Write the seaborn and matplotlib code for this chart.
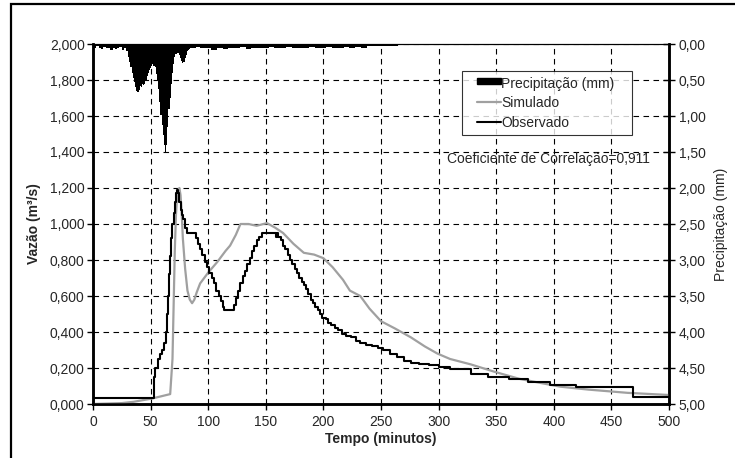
import matplotlib
matplotlib.use("Agg")
import matplotlib.pyplot as plt
import seaborn as sns
from matplotlib.patches import Patch, Rectangle
from matplotlib.lines import Line2D
from matplotlib.legend_handler import HandlerPatch, HandlerLine2D
from matplotlib.ticker import FuncFormatter, MultipleLocator

sns.set_style("white")
plt.rcParams['font.family'] = ['Liberation Sans', 'DejaVu Sans']

# ==========================================
# Dados
# ==========================================
# Vazão observada (m3/s) - hidrograma em degraus
obs_t = [0, 52, 53, 54, 56, 58, 60, 62, 63, 64, 65, 66, 67, 68, 69, 70, 71, 72, 73, 74,
         75, 76, 77, 78, 80, 82, 87, 89, 91, 93, 95, 97, 99, 101, 103, 105, 107, 109, 111,
         113, 114, 120, 122, 124, 126, 128, 130, 132, 134, 136, 138, 140, 142, 144, 147,
         158, 159, 160, 161, 163, 165, 167, 169, 171, 173, 175, 177, 179, 181, 183, 185,
         187, 189, 191, 193, 195, 197, 199, 202, 204, 207, 210, 213, 216, 220, 224, 228,
         232, 237, 242, 247, 252, 258, 264, 270, 276, 283, 292, 300, 310, 328, 343, 361,
         378, 397, 419, 469, 500]
obs_q = [0.035, 0.035, 0.15, 0.20, 0.25, 0.28, 0.30, 0.34, 0.40, 0.50, 0.60, 0.72, 0.82,
         0.92, 1.00, 1.06, 1.12, 1.17, 1.19, 1.17, 1.12, 1.08, 1.05, 1.03, 0.98, 0.95, 0.95,
         0.92, 0.89, 0.86, 0.83, 0.79, 0.76, 0.73, 0.70, 0.67, 0.63, 0.60, 0.57, 0.54, 0.52,
         0.52, 0.55, 0.59, 0.63, 0.67, 0.71, 0.74, 0.78, 0.81, 0.85, 0.88, 0.91, 0.93, 0.95,
         0.95, 0.93, 0.95, 0.93, 0.91, 0.88, 0.86, 0.83, 0.80, 0.78, 0.75, 0.73, 0.70, 0.68,
         0.66, 0.64, 0.61, 0.58, 0.56, 0.54, 0.52, 0.50, 0.48, 0.47, 0.45, 0.44, 0.42, 0.41,
         0.39, 0.38, 0.37, 0.35, 0.34, 0.33, 0.32, 0.31, 0.30, 0.28, 0.26, 0.24, 0.23, 0.22,
         0.215, 0.205, 0.195, 0.167, 0.15, 0.14, 0.122, 0.105, 0.094, 0.04, 0.04]

# Vazão simulada (m3/s)
sim_t = [0, 25, 35, 51, 67, 69, 70, 71, 72, 73, 74, 75, 76, 77, 78, 80, 82, 84, 86, 88,
         90, 93, 100, 108, 115, 119, 124, 128, 135, 142, 151, 158, 165, 174, 183, 192,
         200, 208, 217, 223, 232, 240, 250, 262, 276, 288, 299, 310, 319, 328, 348, 370,
         390, 406, 430, 464, 500]
sim_q = [0.0, 0.005, 0.012, 0.03, 0.055, 0.25, 0.55, 0.85, 1.05, 1.15, 1.19, 1.20, 1.16,
         1.06, 0.92, 0.75, 0.63, 0.58, 0.56, 0.58, 0.62, 0.67, 0.73, 0.79, 0.85, 0.88, 0.94,
         1.00, 1.00, 0.99, 1.005, 0.98, 0.95, 0.89, 0.84, 0.83, 0.81, 0.76, 0.69, 0.63,
         0.60, 0.53, 0.46, 0.42, 0.37, 0.32, 0.28, 0.25, 0.235, 0.22, 0.18, 0.14, 0.115,
         0.096, 0.08, 0.062, 0.05]

# Precipitação (mm)
precip_t = [0, 2, 4, 6, 8, 10, 12, 14, 16, 18, 20, 22, 24, 26, 28,
            30, 31, 32, 33, 34, 35, 36, 37, 38, 39, 40, 41, 42, 43, 44, 45, 46, 47, 48, 49,
            50, 51, 52, 53, 54, 55, 56, 57, 58, 59, 60, 61, 62, 63, 64, 65, 66, 67, 68, 69,
            70, 71, 72, 73, 74, 75, 76, 77, 78, 79, 80, 81, 82, 83, 84, 85, 86, 88,
            90, 95, 100, 105, 110, 115, 120, 125, 130, 135, 140, 145, 150, 155, 160, 165,
            170, 175, 180, 185, 190, 195, 200, 205, 210, 215, 220, 225, 230, 235, 240,
            250, 260, 270, 280, 290, 300, 320, 340, 360, 380]
precip_mm = [0.04, 0.06, 0.03, 0.05, 0.07, 0.04, 0.06, 0.05, 0.08, 0.05, 0.07, 0.06, 0.04,
             0.09, 0.06,
             0.10, 0.18, 0.25, 0.32, 0.40, 0.47, 0.53, 0.60, 0.65, 0.67, 0.64, 0.58, 0.60,
             0.55, 0.57, 0.55, 0.50, 0.44, 0.40, 0.36,
             0.33, 0.30, 0.28, 0.30, 0.32, 0.42, 0.50, 0.62, 0.80, 0.98, 1.12, 1.26, 1.40,
             1.51, 1.40, 1.15, 0.90, 0.75, 0.55, 0.40,
             0.28, 0.18, 0.14, 0.12, 0.13, 0.15, 0.19, 0.23, 0.26, 0.25, 0.20, 0.15, 0.10,
             0.08, 0.07, 0.06, 0.06, 0.05,
             0.04, 0.06, 0.05, 0.08, 0.06, 0.07, 0.05, 0.06, 0.04, 0.07, 0.06, 0.05, 0.06,
             0.04, 0.05, 0.06,
             0.04, 0.05, 0.05, 0.06, 0.04, 0.05, 0.05, 0.04, 0.06, 0.05, 0.04, 0.05, 0.04,
             0.05, 0.03,
             0.03, 0.025, 0.02, 0.02, 0.015, 0.015, 0.012, 0.01, 0.008, 0.0]

corr_text = "Coeficiente de Correlação=0,911"
legend_labels = ['Precipitação (mm)', 'Simulado', 'Observado']

# ==========================================
# Figura
# ==========================================
FS = 10
fig = plt.figure(figsize=(7.35, 4.58), dpi=100)
ax = fig.add_axes([93 / 735, 1 - 404 / 458, 576 / 735, 360 / 458])

# moldura externa (só esquerda e topo aparecem)
fig.patches.append(Rectangle((11 / 735, -0.5), 2.0, 1.5 - 4 / 458, transform=fig.transFigure,
                             fill=False, ec='black', lw=1.6, zorder=0))

sns.lineplot(x=sim_t, y=sim_q, ax=ax, color='#a0a0a0', lw=1.6, zorder=3)
sns.lineplot(x=obs_t, y=obs_q, ax=ax, color='black', lw=1.5, drawstyle='steps-post', zorder=4)

ax.set_xlim(0, 500)
ax.set_ylim(0, 2)
ax.xaxis.set_major_locator(MultipleLocator(50))
ax.yaxis.set_major_locator(MultipleLocator(0.2))
ax.yaxis.set_major_formatter(FuncFormatter(lambda v, p: f"{v:.3f}".replace('.', ',')))
ax.grid(True, ls=(0, (5, 4)), color='black', lw=0.8)
ax.tick_params(axis='y', direction='out', length=4, width=1, labelsize=FS, pad=2,
               left=True, color='black')
ax.tick_params(axis='x', direction='out', length=4, width=1, labelsize=FS, pad=4,
               bottom=True, color='black')
ax.set_xlabel("Tempo (minutos)", fontsize=FS, fontweight='bold', labelpad=2)
ax.set_ylabel("Vazão (m³/s)", fontsize=FS, fontweight='bold', labelpad=6)

ax.text(307, 1.36, corr_text, fontsize=FS, ha='left', va='center', zorder=5)

# precipitação no eixo secundário invertido
ax2 = ax.twinx()
ax2.fill_between(precip_t, 0, precip_mm, step='mid', color='black', lw=0)
ax2.set_ylim(5, 0)
ax2.yaxis.set_major_locator(MultipleLocator(0.5))
ax2.yaxis.set_major_formatter(FuncFormatter(lambda v, p: f"{v:.2f}".replace('.', ',')))
ax2.tick_params(axis='y', direction='inout', length=8, width=1, labelsize=FS, pad=3,
                right=True, color='black')
ax2.set_ylabel("Precipitação (mm)", fontsize=FS, labelpad=6)

for a in (ax, ax2):
    for s in ('left', 'bottom', 'right'):
        a.spines[s].set_linewidth(1.8)
        a.spines[s].set_color('black')
    a.spines['top'].set_linewidth(0.8)
    a.spines['top'].set_color('black')

handles = [Patch(facecolor='black', edgecolor='black', label=legend_labels[0] + '   '),
           Line2D([], [], color='#a0a0a0', lw=1.6, label=legend_labels[1]),
           Line2D([], [], color='black', lw=1.5, label=legend_labels[2])]
hmap = {Patch: HandlerPatch(xpad=0.68, ypad=0.25),
        Line2D: HandlerLine2D(xpad=0.68)}
leg = ax2.legend(handles=handles, handler_map=hmap, loc='upper left',
                 bbox_to_anchor=(0.64, 0.925), borderaxespad=0, fontsize=FS, frameon=True,
                 fancybox=False, edgecolor='black', handlelength=2.4, handleheight=0.75,
                 handletextpad=0.05, labelspacing=0.4, borderpad=0.4)
leg.get_frame().set_linewidth(0.8)
leg.set_zorder(10)

fig.savefig("out.png", dpi=100)
